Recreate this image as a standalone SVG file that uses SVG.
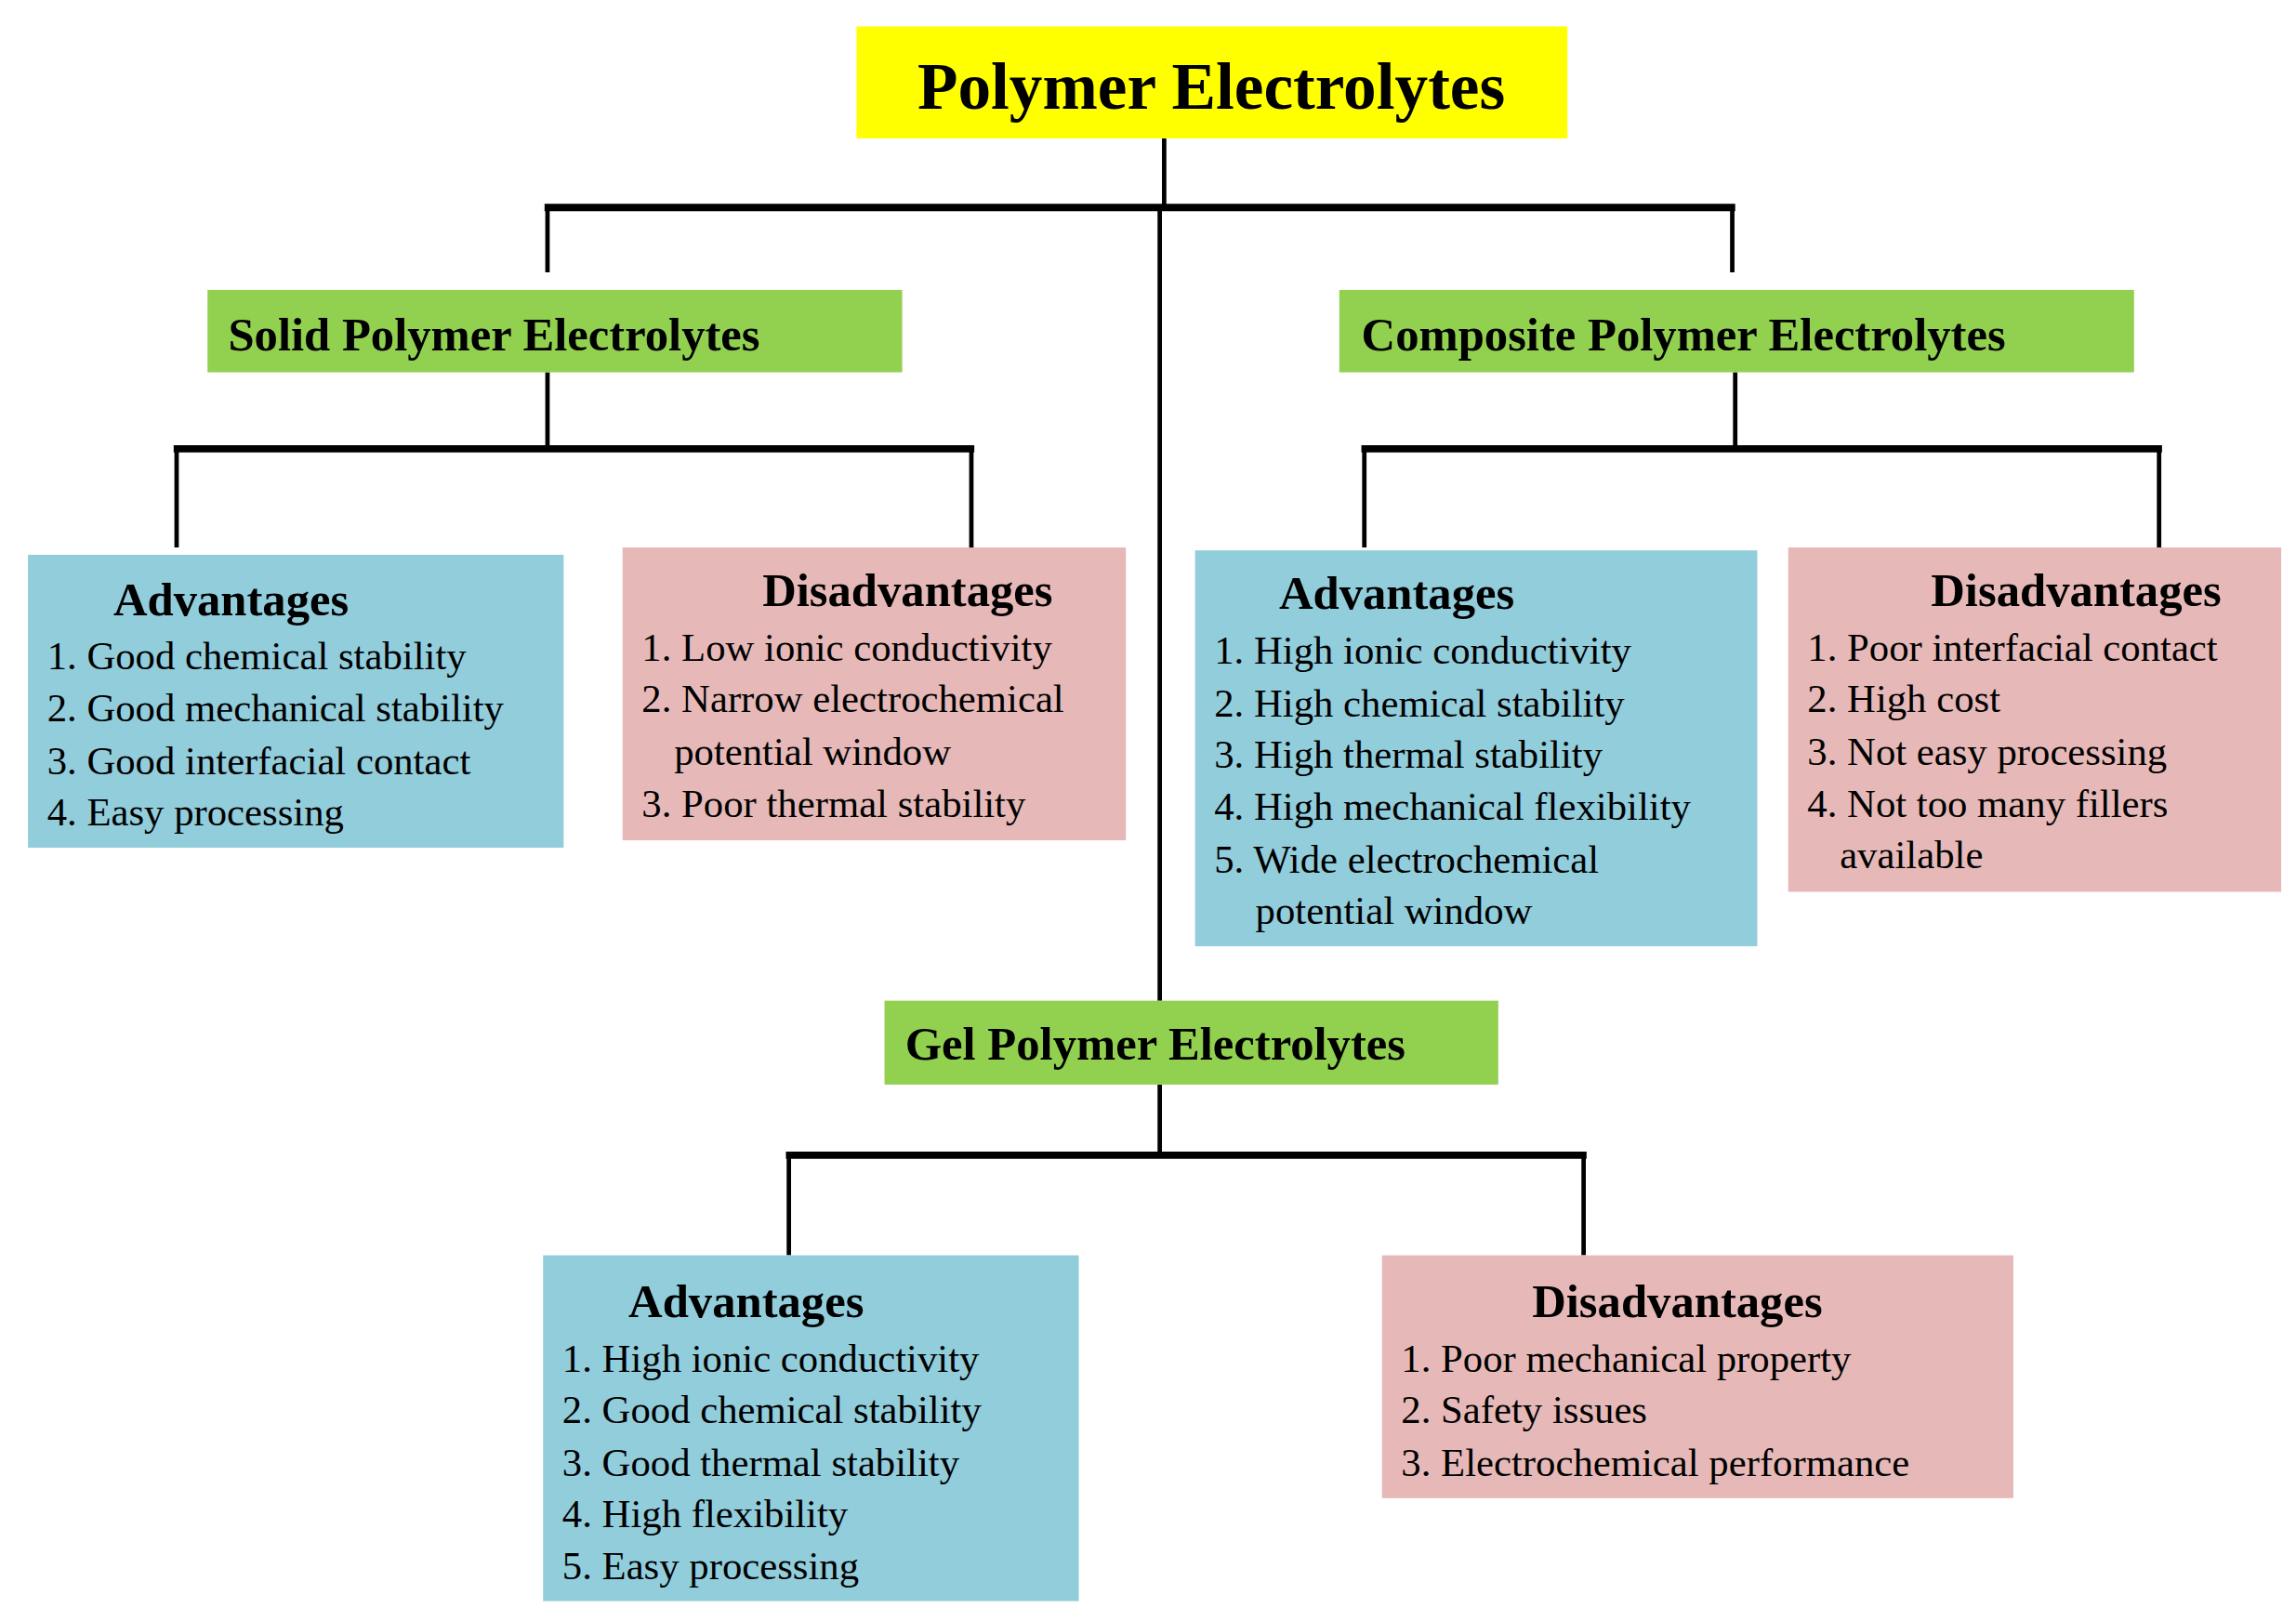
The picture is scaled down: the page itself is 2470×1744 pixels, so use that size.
<svg xmlns="http://www.w3.org/2000/svg" width="2470" height="1744" viewBox="0 0 2470 1744">
<style>
text{font-family:"Liberation Serif","Times New Roman",serif;fill:#000}
.t{font-size:45px;font-weight:bold}
.g{font-size:32px;font-weight:bold}
.h{font-size:32px;font-weight:bold}
.i{font-size:27px}
.yel{fill:#ffff00}.grn{fill:#92d050}.blu{fill:#92cddc}.pnk{fill:#e6b9b8}
.c{stroke:#000;stroke-width:3;fill:none}
.ct{stroke:#000;stroke-width:5;fill:none}
</style>
<rect width="2470" height="1744" fill="#fff"/>
<g transform="scale(1.5833)">
<g id="connectors">
<path class="c" d="M791 94V140M788 140V680M372 140V185M1177 140V185"/>
<path class="ct" d="M370 141H1179"/>
<path class="c" d="M372 253V303M120 305V372M660 305V372"/>
<path class="ct" d="M118 305H662"/>
<path class="c" d="M1179 253V303M927 305V372M1467 305V372"/>
<path class="ct" d="M925 305H1469"/>
<path class="c" d="M788 737V783M536 785V853M1076 785V853"/>
<path class="ct" d="M534 785H1078"/>
</g>
<g id="root"><rect class="yel" x="582" y="18" width="483" height="76"/><text class="t" x="823" y="74" text-anchor="middle">Polymer Electrolytes</text></g>
<g id="solid"><rect class="grn" x="141" y="197" width="472" height="56"/><text class="g" x="155" y="238">Solid Polymer Electrolytes</text></g>
<g id="composite"><rect class="grn" x="910" y="197" width="540" height="56"/><text class="g" x="925" y="238">Composite Polymer Electrolytes</text></g>
<g id="gel"><rect class="grn" x="601" y="680" width="417" height="57"/><text class="g" x="615" y="720">Gel Polymer Electrolytes</text></g>
<g id="solid-adv"><rect class="blu" x="19" y="377" width="364" height="199"/>
<text class="h" x="77" y="418">Advantages</text>
<text class="i" x="32" y="455">1. Good chemical stability</text>
<text class="i" x="32" y="490">2. Good mechanical stability</text>
<text class="i" x="32" y="526">3. Good interfacial contact</text>
<text class="i" x="32" y="561">4. Easy processing</text></g>
<g id="solid-dis"><rect class="pnk" x="423" y="372" width="342" height="199"/>
<text class="h" x="518" y="412">Disadvantages</text>
<text class="i" x="436" y="449">1. Low ionic conductivity</text>
<text class="i" x="436" y="484">2. Narrow electrochemical</text>
<text class="i" x="458" y="520">potential window</text>
<text class="i" x="436" y="555">3. Poor thermal stability</text></g>
<g id="comp-adv"><rect class="blu" x="812" y="374" width="382" height="269"/>
<text class="h" x="869" y="414">Advantages</text>
<text class="i" x="825" y="451">1. High ionic conductivity</text>
<text class="i" x="825" y="487">2. High chemical stability</text>
<text class="i" x="825" y="522">3. High thermal stability</text>
<text class="i" x="825" y="557">4. High mechanical flexibility</text>
<text class="i" x="825" y="593">5. Wide electrochemical</text>
<text class="i" x="853" y="628">potential window</text></g>
<g id="comp-dis"><rect class="pnk" x="1215" y="372" width="335" height="234"/>
<text class="h" x="1312" y="412">Disadvantages</text>
<text class="i" x="1228" y="449">1. Poor interfacial contact</text>
<text class="i" x="1228" y="484">2. High cost</text>
<text class="i" x="1228" y="520">3. Not easy processing</text>
<text class="i" x="1228" y="555">4. Not too many fillers</text>
<text class="i" x="1250" y="590">available</text></g>
<g id="gel-adv"><rect class="blu" x="369" y="853" width="364" height="235"/>
<text class="h" x="427" y="895">Advantages</text>
<text class="i" x="382" y="932">1. High ionic conductivity</text>
<text class="i" x="382" y="967">2. Good chemical stability</text>
<text class="i" x="382" y="1003">3. Good thermal stability</text>
<text class="i" x="382" y="1038">4. High flexibility</text>
<text class="i" x="382" y="1073">5. Easy processing</text></g>
<g id="gel-dis"><rect class="pnk" x="939" y="853" width="429" height="165"/>
<text class="h" x="1041" y="895">Disadvantages</text>
<text class="i" x="952" y="932">1. Poor mechanical property</text>
<text class="i" x="952" y="967">2. Safety issues</text>
<text class="i" x="952" y="1003">3. Electrochemical performance</text></g>
</g>
</svg>
